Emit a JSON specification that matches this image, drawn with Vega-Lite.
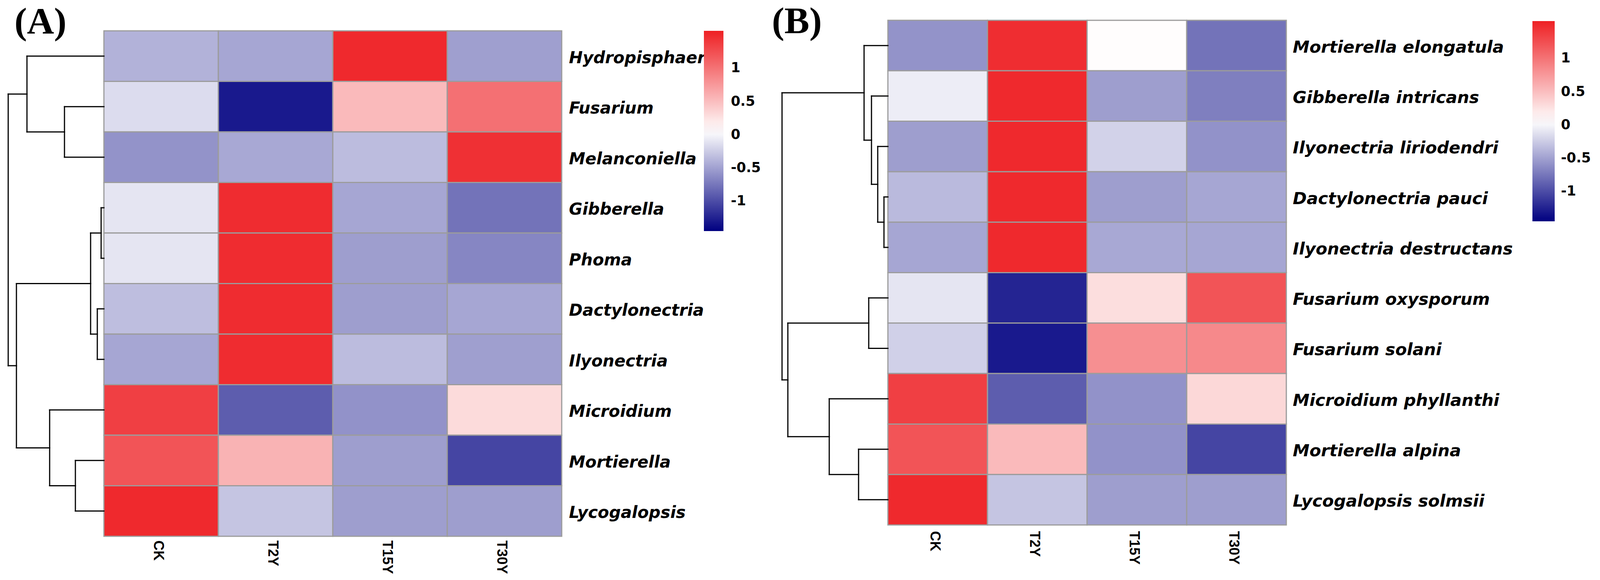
{
  "$schema": "https://vega.github.io/schema/vega-lite/v6.json",
  "background": "white",
  "padding": {"left": 18, "top": 7, "right": 0, "bottom": 18},
  "bounds": "flush",
  "spacing": 835,
  "config": {"view": {"stroke": null, "fill": "transparent"}},
  "resolve": {"scale": {"color": "independent"}, "legend": {"color": "independent"}},
  "datasets": {
    "dendA": [
      {"x": 4.12, "x2": 4.12, "y": 1.5, "y2": 2.5},
      {"x": 0, "x2": 4.12, "y": 1.5, "y2": 1.5},
      {"x": 0, "x2": 4.12, "y": 2.5, "y2": 2.5},
      {"x": 8.04, "x2": 8.04, "y": 0.5, "y2": 2.0},
      {"x": 0, "x2": 8.04, "y": 0.5, "y2": 0.5},
      {"x": 4.12, "x2": 8.04, "y": 2.0, "y2": 2.0},
      {"x": 0.29, "x2": 0.29, "y": 3.5, "y2": 4.5},
      {"x": 0, "x2": 0.29, "y": 3.5, "y2": 3.5},
      {"x": 0, "x2": 0.29, "y": 4.5, "y2": 4.5},
      {"x": 0.69, "x2": 0.69, "y": 5.5, "y2": 6.5},
      {"x": 0, "x2": 0.69, "y": 5.5, "y2": 5.5},
      {"x": 0, "x2": 0.69, "y": 6.5, "y2": 6.5},
      {"x": 1.39, "x2": 1.39, "y": 4.0, "y2": 6.0},
      {"x": 0.29, "x2": 1.39, "y": 4.0, "y2": 4.0},
      {"x": 0.69, "x2": 1.39, "y": 6.0, "y2": 6.0},
      {"x": 2.98, "x2": 2.98, "y": 8.5, "y2": 9.5},
      {"x": 0, "x2": 2.98, "y": 8.5, "y2": 8.5},
      {"x": 0, "x2": 2.98, "y": 9.5, "y2": 9.5},
      {"x": 5.67, "x2": 5.67, "y": 7.5, "y2": 9.0},
      {"x": 0, "x2": 5.67, "y": 7.5, "y2": 7.5},
      {"x": 2.98, "x2": 5.67, "y": 9.0, "y2": 9.0},
      {"x": 9.14, "x2": 9.14, "y": 5.0, "y2": 8.25},
      {"x": 1.39, "x2": 9.14, "y": 5.0, "y2": 5.0},
      {"x": 5.67, "x2": 9.14, "y": 8.25, "y2": 8.25},
      {"x": 10, "x2": 10, "y": 1.25, "y2": 6.625},
      {"x": 8.04, "x2": 10, "y": 1.25, "y2": 1.25},
      {"x": 9.14, "x2": 10, "y": 6.625, "y2": 6.625}
    ],
    "dendB": [
      {"x": 0.37, "x2": 0.37, "y": 3.5, "y2": 4.5},
      {"x": 0, "x2": 0.37, "y": 3.5, "y2": 3.5},
      {"x": 0, "x2": 0.37, "y": 4.5, "y2": 4.5},
      {"x": 0.96, "x2": 0.96, "y": 2.5, "y2": 4.0},
      {"x": 0, "x2": 0.96, "y": 2.5, "y2": 2.5},
      {"x": 0.37, "x2": 0.96, "y": 4.0, "y2": 4.0},
      {"x": 1.55, "x2": 1.55, "y": 1.5, "y2": 3.25},
      {"x": 0, "x2": 1.55, "y": 1.5, "y2": 1.5},
      {"x": 0.96, "x2": 1.55, "y": 3.25, "y2": 3.25},
      {"x": 2.25, "x2": 2.25, "y": 0.5, "y2": 2.375},
      {"x": 0, "x2": 2.25, "y": 0.5, "y2": 0.5},
      {"x": 1.55, "x2": 2.25, "y": 2.375, "y2": 2.375},
      {"x": 1.81, "x2": 1.81, "y": 5.5, "y2": 6.5},
      {"x": 0, "x2": 1.81, "y": 5.5, "y2": 5.5},
      {"x": 0, "x2": 1.81, "y": 6.5, "y2": 6.5},
      {"x": 2.77, "x2": 2.77, "y": 8.5, "y2": 9.5},
      {"x": 0, "x2": 2.77, "y": 8.5, "y2": 8.5},
      {"x": 0, "x2": 2.77, "y": 9.5, "y2": 9.5},
      {"x": 5.54, "x2": 5.54, "y": 7.5, "y2": 9.0},
      {"x": 0, "x2": 5.54, "y": 7.5, "y2": 7.5},
      {"x": 2.77, "x2": 5.54, "y": 9.0, "y2": 9.0},
      {"x": 9.45, "x2": 9.45, "y": 6.0, "y2": 8.25},
      {"x": 1.81, "x2": 9.45, "y": 6.0, "y2": 6.0},
      {"x": 5.54, "x2": 9.45, "y": 8.25, "y2": 8.25},
      {"x": 10, "x2": 10, "y": 1.4375, "y2": 7.125},
      {"x": 2.25, "x2": 10, "y": 1.4375, "y2": 1.4375},
      {"x": 9.45, "x2": 10, "y": 7.125, "y2": 7.125}
    ],
    "heatA": [
      {"taxon": "Hydropisphaera", "group": "CK", "value": -0.40},
      {"taxon": "Hydropisphaera", "group": "T2Y", "value": -0.47},
      {"taxon": "Hydropisphaera", "group": "T15Y", "value": 1.50},
      {"taxon": "Hydropisphaera", "group": "T30Y", "value": -0.51},
      {"taxon": "Fusarium", "group": "CK", "value": -0.15},
      {"taxon": "Fusarium", "group": "T2Y", "value": -1.30},
      {"taxon": "Fusarium", "group": "T15Y", "value": 0.52},
      {"taxon": "Fusarium", "group": "T30Y", "value": 1.02},
      {"taxon": "Melanconiella", "group": "CK", "value": -0.58},
      {"taxon": "Melanconiella", "group": "T2Y", "value": -0.46},
      {"taxon": "Melanconiella", "group": "T15Y", "value": -0.34},
      {"taxon": "Melanconiella", "group": "T30Y", "value": 1.45},
      {"taxon": "Gibberella", "group": "CK", "value": -0.10},
      {"taxon": "Gibberella", "group": "T2Y", "value": 1.48},
      {"taxon": "Gibberella", "group": "T15Y", "value": -0.47},
      {"taxon": "Gibberella", "group": "T30Y", "value": -0.77},
      {"taxon": "Phoma", "group": "CK", "value": -0.10},
      {"taxon": "Phoma", "group": "T2Y", "value": 1.48},
      {"taxon": "Phoma", "group": "T15Y", "value": -0.52},
      {"taxon": "Phoma", "group": "T30Y", "value": -0.66},
      {"taxon": "Dactylonectria", "group": "CK", "value": -0.33},
      {"taxon": "Dactylonectria", "group": "T2Y", "value": 1.48},
      {"taxon": "Dactylonectria", "group": "T15Y", "value": -0.52},
      {"taxon": "Dactylonectria", "group": "T30Y", "value": -0.47},
      {"taxon": "Ilyonectria", "group": "CK", "value": -0.47},
      {"taxon": "Ilyonectria", "group": "T2Y", "value": 1.48},
      {"taxon": "Ilyonectria", "group": "T15Y", "value": -0.34},
      {"taxon": "Ilyonectria", "group": "T30Y", "value": -0.51},
      {"taxon": "Microidium", "group": "CK", "value": 1.35},
      {"taxon": "Microidium", "group": "T2Y", "value": -0.90},
      {"taxon": "Microidium", "group": "T15Y", "value": -0.59},
      {"taxon": "Microidium", "group": "T30Y", "value": 0.30},
      {"taxon": "Mortierella", "group": "CK", "value": 1.21},
      {"taxon": "Mortierella", "group": "T2Y", "value": 0.57},
      {"taxon": "Mortierella", "group": "T15Y", "value": -0.52},
      {"taxon": "Mortierella", "group": "T30Y", "value": -1.04},
      {"taxon": "Lycogalopsis", "group": "CK", "value": 1.50},
      {"taxon": "Lycogalopsis", "group": "T2Y", "value": -0.29},
      {"taxon": "Lycogalopsis", "group": "T15Y", "value": -0.52},
      {"taxon": "Lycogalopsis", "group": "T30Y", "value": -0.52}
    ],
    "heatB": [
      {"taxon": "Mortierella elongatula", "group": "CK", "value": -0.58},
      {"taxon": "Mortierella elongatula", "group": "T2Y", "value": 1.47},
      {"taxon": "Mortierella elongatula", "group": "T15Y", "value": 0.07},
      {"taxon": "Mortierella elongatula", "group": "T30Y", "value": -0.77},
      {"taxon": "Gibberella intricans", "group": "CK", "value": -0.05},
      {"taxon": "Gibberella intricans", "group": "T2Y", "value": 1.50},
      {"taxon": "Gibberella intricans", "group": "T15Y", "value": -0.52},
      {"taxon": "Gibberella intricans", "group": "T30Y", "value": -0.70},
      {"taxon": "Ilyonectria liriodendri", "group": "CK", "value": -0.52},
      {"taxon": "Ilyonectria liriodendri", "group": "T2Y", "value": 1.50},
      {"taxon": "Ilyonectria liriodendri", "group": "T15Y", "value": -0.21},
      {"taxon": "Ilyonectria liriodendri", "group": "T30Y", "value": -0.59},
      {"taxon": "Dactylonectria pauci", "group": "CK", "value": -0.35},
      {"taxon": "Dactylonectria pauci", "group": "T2Y", "value": 1.50},
      {"taxon": "Dactylonectria pauci", "group": "T15Y", "value": -0.52},
      {"taxon": "Dactylonectria pauci", "group": "T30Y", "value": -0.47},
      {"taxon": "Ilyonectria destructans", "group": "CK", "value": -0.47},
      {"taxon": "Ilyonectria destructans", "group": "T2Y", "value": 1.50},
      {"taxon": "Ilyonectria destructans", "group": "T15Y", "value": -0.46},
      {"taxon": "Ilyonectria destructans", "group": "T30Y", "value": -0.47},
      {"taxon": "Fusarium oxysporum", "group": "CK", "value": -0.10},
      {"taxon": "Fusarium oxysporum", "group": "T2Y", "value": -1.24},
      {"taxon": "Fusarium oxysporum", "group": "T15Y", "value": 0.28},
      {"taxon": "Fusarium oxysporum", "group": "T30Y", "value": 1.21},
      {"taxon": "Fusarium solani", "group": "CK", "value": -0.22},
      {"taxon": "Fusarium solani", "group": "T2Y", "value": -1.30},
      {"taxon": "Fusarium solani", "group": "T15Y", "value": 0.81},
      {"taxon": "Fusarium solani", "group": "T30Y", "value": 0.85},
      {"taxon": "Microidium phyllanthi", "group": "CK", "value": 1.35},
      {"taxon": "Microidium phyllanthi", "group": "T2Y", "value": -0.90},
      {"taxon": "Microidium phyllanthi", "group": "T15Y", "value": -0.59},
      {"taxon": "Microidium phyllanthi", "group": "T30Y", "value": 0.32},
      {"taxon": "Mortierella alpina", "group": "CK", "value": 1.21},
      {"taxon": "Mortierella alpina", "group": "T2Y", "value": 0.52},
      {"taxon": "Mortierella alpina", "group": "T15Y", "value": -0.59},
      {"taxon": "Mortierella alpina", "group": "T30Y", "value": -1.04},
      {"taxon": "Lycogalopsis solmsii", "group": "CK", "value": 1.50},
      {"taxon": "Lycogalopsis solmsii", "group": "T2Y", "value": -0.29},
      {"taxon": "Lycogalopsis solmsii", "group": "T15Y", "value": -0.52},
      {"taxon": "Lycogalopsis solmsii", "group": "T30Y", "value": -0.52}
    ]
  },
  "hconcat": [
    {
      "width": 1172,
      "height": 1322,
      "title": {"text": "(A)", "anchor": "start", "frame": "group", "font": "Liberation Serif", "fontSize": 96, "fontWeight": "bold", "color": "black", "baseline": "alphabetic", "offset": 0, "dx": -229, "dy": 130},
      "resolve": {"scale": {"x": "independent", "y": "independent"}},
      "layer": [
        {
          "data": {"name": "heatA"},
          "mark": {"type": "rect", "stroke": "#9c9c9c", "strokeWidth": 3},
          "encoding": {
            "x": {"field": "group", "type": "nominal", "sort": ["CK", "T2Y", "T15Y", "T30Y"], "scale": {"paddingInner": 0, "paddingOuter": 0},
                  "axis": {"orient": "bottom", "title": null, "labelAngle": 90, "labelFont": "Liberation Sans", "labelFontSize": 36, "labelFontWeight": "bold", "labelColor": "black", "labelPadding": 10, "ticks": false, "domain": false, "labelOffset": -8, "zindex": 0}},
            "y": {"field": "taxon", "type": "nominal", "sort": ["Hydropisphaera", "Fusarium", "Melanconiella", "Gibberella", "Phoma", "Dactylonectria", "Ilyonectria", "Microidium", "Mortierella", "Lycogalopsis"],
                  "scale": {"range": [27, 1322], "paddingInner": 0, "paddingOuter": 0},
                  "axis": {"orient": "right", "title": null, "labelFont": "DejaVu Sans", "labelFontSize": 42, "labelFontWeight": "bold", "labelFontStyle": "italic", "labelColor": "black", "labelPadding": 18, "ticks": false, "domain": false, "labelLimit": 2000, "labelOffset": 5, "zindex": 0}},
            "color": {"field": "value", "type": "quantitative",
                      "scale": {"domain": [-1.45, 0.055, 1.56], "range": ["#000080", "#ffffff", "#EE2024"], "interpolate": "rgb"},
                      "legend": {"orient": "none", "legendX": 1536, "legendY": 27, "direction": "vertical", "zindex": 5, "gradientLength": 513, "gradientThickness": 50, "gradientStrokeWidth": 0, "title": null, "values": [-1, -0.5, 0, 0.5, 1], "labelExpr": "'' + datum.value", "labelFont": "DejaVu Sans", "labelFontSize": 35, "labelFontWeight": "bold", "labelColor": "black", "labelOffset": 19, "padding": 0}}
          }
        },
        {
          "data": {"name": "dendA"},
          "mark": {"type": "rule", "stroke": "black", "strokeWidth": 3, "strokeCap": "square"},
          "encoding": {
            "x": {"field": "x", "type": "quantitative", "scale": {"domain": [0, 10], "range": [0, -245]}, "axis": null},
            "x2": {"field": "x2"},
            "y": {"field": "y", "type": "quantitative", "scale": {"domain": [0, 10], "range": [27, 1322]}, "axis": null},
            "y2": {"field": "y2"}
          }
        }
      ]
    },
    {
      "width": 1020,
      "height": 1293,
      "title": {"text": "(B)", "anchor": "start", "frame": "group", "font": "Liberation Serif", "fontSize": 96, "fontWeight": "bold", "color": "black", "baseline": "alphabetic", "offset": 0, "dx": -297, "dy": 130},
      "resolve": {"scale": {"x": "independent", "y": "independent"}},
      "layer": [
        {
          "data": {"name": "heatB"},
          "mark": {"type": "rect", "stroke": "#9c9c9c", "strokeWidth": 3},
          "encoding": {
            "x": {"field": "group", "type": "nominal", "sort": ["CK", "T2Y", "T15Y", "T30Y"], "scale": {"paddingInner": 0, "paddingOuter": 0},
                  "axis": {"orient": "bottom", "title": null, "labelAngle": 90, "labelFont": "Liberation Sans", "labelFontSize": 36, "labelFontWeight": "bold", "labelColor": "black", "labelPadding": 15, "ticks": false, "domain": false, "labelOffset": -8}},
            "y": {"field": "taxon", "type": "nominal", "sort": ["Mortierella elongatula", "Gibberella intricans", "Ilyonectria liriodendri", "Dactylonectria pauci", "Ilyonectria destructans", "Fusarium oxysporum", "Fusarium solani", "Microidium phyllanthi", "Mortierella alpina", "Lycogalopsis solmsii"],
                  "scale": {"paddingInner": 0, "paddingOuter": 0},
                  "axis": {"orient": "right", "title": null, "labelFont": "DejaVu Sans", "labelFontSize": 43, "labelFontWeight": "bold", "labelFontStyle": "italic", "labelColor": "black", "labelPadding": 16, "ticks": false, "domain": false, "labelLimit": 2000, "labelOffset": 5}},
            "color": {"field": "value", "type": "quantitative",
                      "scale": {"domain": [-1.45, 0.055, 1.56], "range": ["#000080", "#ffffff", "#EE2024"], "interpolate": "rgb"},
                      "legend": {"orient": "none", "legendX": 1650, "legendY": 2, "direction": "vertical", "gradientLength": 513, "gradientThickness": 57, "gradientStrokeWidth": 0, "title": null, "values": [-1, -0.5, 0, 0.5, 1], "labelExpr": "'' + datum.value", "labelFont": "DejaVu Sans", "labelFontSize": 35, "labelFontWeight": "bold", "labelColor": "black", "labelOffset": 16, "padding": 0}}
          }
        },
        {
          "data": {"name": "dendB"},
          "mark": {"type": "rule", "stroke": "black", "strokeWidth": 3, "strokeCap": "square"},
          "encoding": {
            "x": {"field": "x", "type": "quantitative", "scale": {"domain": [0, 10], "range": [0, -271]}, "axis": null},
            "x2": {"field": "x2"},
            "y": {"field": "y", "type": "quantitative", "scale": {"domain": [0, 10], "range": [0, 1293]}, "axis": null},
            "y2": {"field": "y2"}
          }
        }
      ]
    }
  ]
}
